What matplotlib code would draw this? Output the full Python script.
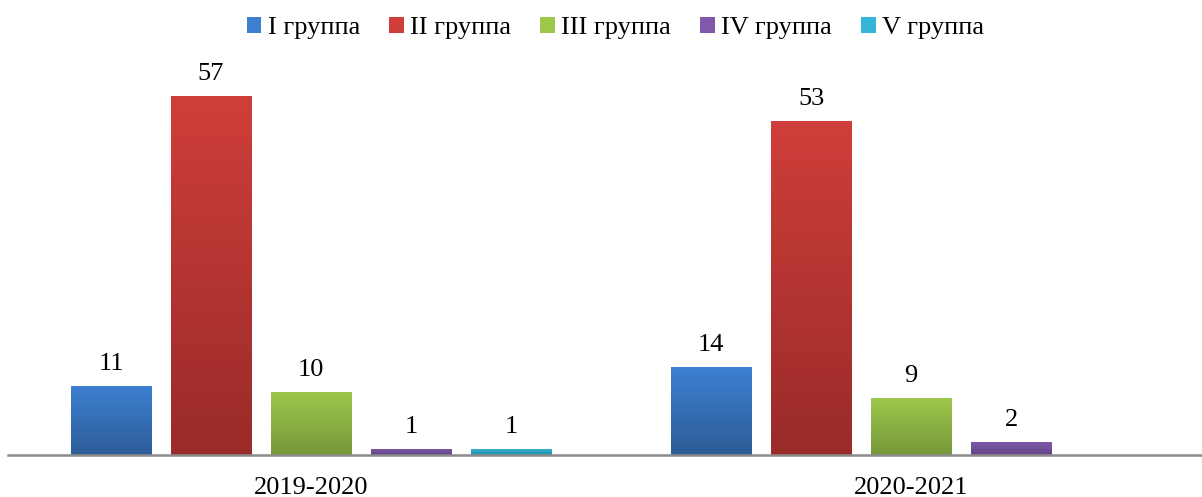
import matplotlib.pyplot as plt
import numpy as np
from matplotlib.colors import LinearSegmentedColormap

years = ['2019-2020', '2020-2021']
groups = ['I группа', 'II группа', 'III группа', 'IV группа', 'V группа']
values = [
    [11, 14],
    [57, 53],
    [10, 9],
    [1, 2],
    [1, None],
]
# (top, bottom) colours of each series gradient
colors = [
    ('#3d80d2', '#2d5c96'),
    ('#cf3e3a', '#992b29'),
    ('#9dc74b', '#76983a'),
    ('#8059aa', '#624585'),
    ('#35b5d8', '#2790ac'),
]

plt.rcParams['font.family'] = ['Liberation Serif', 'DejaVu Serif']

fig = plt.figure(figsize=(12.02, 4.97), dpi=100)
ax = fig.add_axes([8 / 1202, 42 / 497, 1194 / 1202, (455 - 70) / 497])

x = np.arange(len(years))
step = 1 / 6
width = 0.135

for i, (name, vals) in enumerate(zip(groups, values)):
    pos = x + (i - 2) * step
    h = [v if v is not None else 0 for v in vals]
    bars = ax.bar(pos, h, width, color=colors[i][0], label=name, zorder=2)
    cmap = LinearSegmentedColormap.from_list('g%d' % i, [colors[i][1], colors[i][0]])
    grad = np.linspace(0, 1, 100).reshape(-1, 1)
    for b, v in zip(bars, vals):
        if v is None:
            b.set_visible(False)
            continue
        x0, y0 = b.get_x(), b.get_y()
        im = ax.imshow(grad, cmap=cmap, origin='lower', aspect='auto',
                       extent=[x0, x0 + b.get_width(), y0, y0 + b.get_height()],
                       zorder=3)
        im.set_clip_path(b)
        ax.annotate(str(v), (b.get_x() + b.get_width() / 2, v),
                    xytext=(0, 8), textcoords='offset points',
                    ha='center', va='bottom', fontsize=19)

ax.set_xlim(-0.505, 1.485)
ax.set_ylim(0, (455 - 70) / 6.3)
ax.set_xticks(x)
ax.set_xticklabels(years, fontsize=19)
ax.tick_params(axis='x', length=0, pad=15.5)
ax.set_yticks([])
for s in ['top', 'right', 'left']:
    ax.spines[s].set_visible(False)
ax.spines['bottom'].set_color('#8c8c8c')
ax.spines['bottom'].set_linewidth(1.8)
ax.spines['bottom'].set_zorder(4)

handles, labels = ax.get_legend_handles_labels()
fig.legend(handles, labels, loc='center', bbox_to_anchor=(0.512, 1 - 28 / 497),
           ncol=5, frameon=False, fontsize=19, handlelength=0.55,
           handleheight=0.55, handletextpad=0.25, columnspacing=1.1)

fig.savefig('out.png', dpi=100)
